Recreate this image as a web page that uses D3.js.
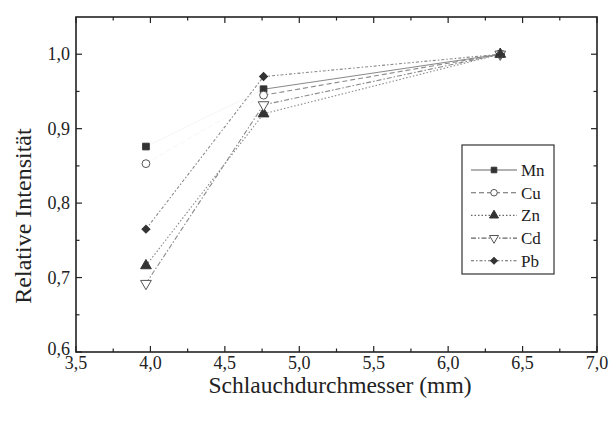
<!DOCTYPE html>
<html>
<head>
<meta charset="utf-8">
<script src="https://cdn.jsdelivr.net/npm/d3@7"></script>
<style>
  html, body { margin: 0; padding: 0; background: #fff; }
  svg { display: block; }
</style>
</head>
<body>
<svg id="chart" width="610" height="423"></svg>
<script>
// Tube diameters (mm) and relative intensities per element
const diameters = [3.97, 4.76, 6.35];
const elements = ["Mn", "Cu", "Zn", "Cd", "Pb"];
const mnValues = [0.876, 0.953, 1.0];
const cuValues = [0.853, 0.945, 1.0];
const znValues = [0.716, 0.920, 1.0];
const cdValues = [0.692, 0.932, 1.0];
const pbValues = [0.765, 0.970, 1.0];
const xTicks = [3.5, 4.0, 4.5, 5.0, 5.5, 6.0, 6.5, 7.0];
const yTicks = [0.6, 0.7, 0.8, 0.9, 1.0];

const serif = "'Liberation Serif', 'Times New Roman', Times, 'DejaVu Serif', serif";

const series = [
  { name: "Mn", values: mnValues, dash: null,        symbol: d3.symbolSquare,   fill: true,  size: 44, rotate: 0 },
  { name: "Cu", values: cuValues, dash: "5,3",       symbol: d3.symbolCircle,   fill: false, size: 48, rotate: 0 },
  { name: "Zn", values: znValues, dash: "1.5,2",     symbol: d3.symbolTriangle, fill: true,  size: 50, rotate: 0 },
  { name: "Cd", values: cdValues, dash: "5,2,1.5,2", symbol: d3.symbolTriangle, fill: false, size: 50, rotate: 180 },
  { name: "Pb", values: pbValues, dash: "3,2,1.5,2", symbol: d3.symbolSquare,   fill: true,  size: 32, rotate: 45 }
];

const svg = d3.select("#chart").attr("font-family", serif);
const plot = { left: 76, right: 597, top: 17, bottom: 352 };

const x = d3.scaleLinear().domain([3.5, 7.0]).range([plot.left, plot.right]);
const y = d3.scaleLinear().domain([0.6, 1.05]).range([plot.bottom, plot.top]);

const fmt = d => d3.format(".1f")(d).replace(".", ",");

// Frame
svg.append("rect")
  .attr("x", plot.left).attr("y", plot.top)
  .attr("width", plot.right - plot.left).attr("height", plot.bottom - plot.top)
  .attr("fill", "none").attr("stroke", "#222").attr("stroke-width", 1.6);

// Inward ticks on all four sides
const xMinor = d3.range(3.75, 7.0, 0.5);
const yMinor = d3.range(0.65, 1.05, 0.1);
const tickColor = "#222";
function ticks(vals, len, orient) {
  vals.forEach(v => {
    if (orient === "x") {
      svg.append("line").attr("x1", x(v)).attr("x2", x(v)).attr("y1", plot.bottom).attr("y2", plot.bottom - len)
        .attr("stroke", tickColor).attr("stroke-width", 1.2);
      svg.append("line").attr("x1", x(v)).attr("x2", x(v)).attr("y1", plot.top).attr("y2", plot.top + len)
        .attr("stroke", tickColor).attr("stroke-width", 1.2);
    } else {
      svg.append("line").attr("x1", plot.left).attr("x2", plot.left + len).attr("y1", y(v)).attr("y2", y(v))
        .attr("stroke", tickColor).attr("stroke-width", 1.2);
      svg.append("line").attr("x1", plot.right).attr("x2", plot.right - len).attr("y1", y(v)).attr("y2", y(v))
        .attr("stroke", tickColor).attr("stroke-width", 1.2);
    }
  });
}
ticks(xTicks, 6, "x");
ticks(xMinor, 3.5, "x");
ticks(yTicks, 6, "y");
ticks(yMinor, 3.5, "y");

// Tick labels
svg.selectAll(".xl").data(xTicks).enter().append("text")
  .attr("x", d => x(d)).attr("y", 369)
  .attr("text-anchor", "middle").attr("font-size", 18).attr("fill", "#222")
  .attr("font-family", serif)
  .text(fmt);
svg.selectAll(".yl").data(yTicks).enter().append("text")
  .attr("x", 70).attr("y", d => y(d) + 6 - (d === 0.6 ? 3 : 0))
  .attr("text-anchor", "end").attr("font-size", 18).attr("fill", "#222")
  .attr("font-family", serif)
  .text(fmt);

// Axis titles
svg.append("text")
  .attr("x", 340).attr("y", 393)
  .attr("text-anchor", "middle").attr("font-size", 23.5).attr("fill", "#222")
  .attr("font-family", serif)
  .text("Schlauchdurchmesser (mm)");
svg.append("text")
  .attr("transform", "translate(31,216) rotate(-90)")
  .attr("text-anchor", "middle").attr("font-size", 24).attr("fill", "#222")
  .attr("font-family", serif)
  .text("Relative Intensität");

// Series lines, drawn segment by segment
series.forEach(s => {
  const pts = s.values;
  // the Mn and Cu connectors from the smallest tube come out very faint in print
  const faintFirst = (s.name === "Mn" || s.name === "Cu");
  for (let i = 0; i < pts.length - 1; i++) {
    svg.append("path")
      .attr("d", d3.line()([[x(diameters[i]), y(pts[i])], [x(diameters[i + 1]), y(pts[i + 1])]]))
      .attr("fill", "none")
      .attr("stroke", (i === 0 && faintFirst) ? "#f7f7f7" : "#8a8a8a")
      .attr("stroke-width", 1.1).attr("stroke-dasharray", s.dash);
  }
});

// Markers
series.forEach(s => {
  const sym = d3.symbol().type(s.symbol).size(s.size);
  s.values.forEach((v, i) => {
    svg.append("path")
      .attr("d", sym())
      .attr("transform", `translate(${x(diameters[i])},${y(v)}) rotate(${s.rotate})`)
      .attr("fill", s.fill ? "#333" : "#fff")
      .attr("stroke", s.fill ? "#333" : "#555")
      .attr("stroke-width", 1);
  });
});

// Legend
const lg = svg.append("g");
lg.append("rect").attr("x", 462).attr("y", 145).attr("width", 92).attr("height", 129)
  .attr("fill", "#fff").attr("stroke", "#333").attr("stroke-width", 1.2);
series.forEach((s, i) => {
  const ly = 170 + i * 22.7;
  lg.append("line").attr("x1", 471).attr("x2", 517).attr("y1", ly).attr("y2", ly)
    .attr("stroke", "#666").attr("stroke-width", 1.1).attr("stroke-dasharray", s.dash);
  lg.append("path")
    .attr("d", d3.symbol().type(s.symbol).size(s.size * 0.7)())
    .attr("transform", `translate(494,${ly}) rotate(${s.rotate})`)
    .attr("fill", s.fill ? "#333" : "#fff")
    .attr("stroke", s.fill ? "#333" : "#555").attr("stroke-width", 1);
  lg.append("text").attr("x", 521).attr("y", ly + 6)
    .attr("font-size", 17).attr("fill", "#222").attr("font-family", serif)
    .text(s.name);
});
</script>
</body>
</html>
